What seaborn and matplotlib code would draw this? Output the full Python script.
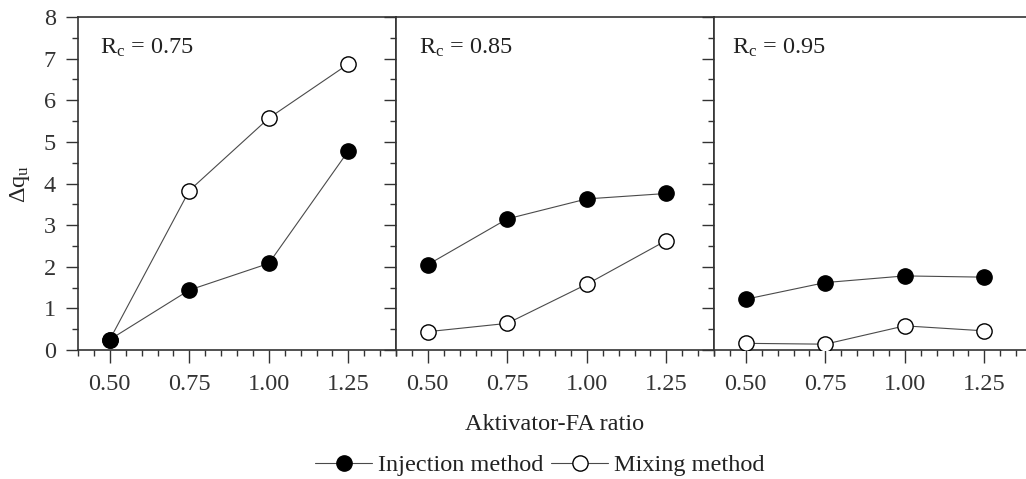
import numpy as np
import pandas as pd
import matplotlib
matplotlib.use("Agg")
import matplotlib.pyplot as plt
from matplotlib.ticker import MultipleLocator, FormatStrFormatter
from matplotlib.lines import Line2D
import seaborn as sns

# Activator-to-fly-ash ratios tested
ratio = [0.50, 0.75, 1.00, 1.25]

# Panels: curing ratio R_c
rc_labels = ["0.75", "0.85", "0.95"]

# Increase in unconfined strength, Δq_u, per panel
injection = [
    [0.25, 1.44, 2.08, 4.78],
    [2.05, 3.15, 3.63, 3.76],
    [1.22, 1.62, 1.78, 1.75],
]
mixing = [
    [0.25, 3.83, 5.57, 6.87],
    [0.44, 0.64, 1.58, 2.63],
    [0.16, 0.14, 0.58, 0.46],
]

series_names = ["Injection method", "Mixing method"]

sns.set_style("ticks")
plt.rcParams["font.family"] = ["Liberation Serif", "DejaVu Serif"]
plt.rcParams["mathtext.fontset"] = "custom"
plt.rcParams["mathtext.rm"] = "Liberation Serif"
plt.rcParams["mathtext.it"] = "Liberation Serif:italic"
plt.rcParams["axes.edgecolor"] = "#333333"
plt.rcParams["xtick.color"] = "#333333"
plt.rcParams["ytick.color"] = "#333333"
plt.rcParams["text.color"] = "#222222"

FS = 17.5
fig = plt.figure(figsize=(10.26, 4.79), dpi=100)
gs = fig.add_gridspec(1, 3, left=78 / 1026, right=1032 / 1026,
                      top=1 - 17 / 479, bottom=1 - 350 / 479, wspace=0)
axes = [fig.add_subplot(gs[0, i]) for i in range(3)]

text_x = [0.07, 0.072, 0.057]
line_kw = dict(color="#4a4a4a", linewidth=0.8, marker="o", markersize=11,
               markeredgecolor="black", markeredgewidth=1.0)

for i, ax in enumerate(axes):
    df = pd.DataFrame({
        "ratio": ratio * 2,
        "dq": mixing[i] + injection[i],
        "method": [series_names[1]] * 4 + [series_names[0]] * 4,
    })
    sns.lineplot(data=df[df["method"] == series_names[1]], x="ratio", y="dq",
                 ax=ax, markerfacecolor="white", zorder=3, legend=False,
                 **line_kw)
    sns.lineplot(data=df[df["method"] == series_names[0]], x="ratio", y="dq",
                 ax=ax, markerfacecolor="black", zorder=4, legend=False,
                 **line_kw)

    ax.set_xlim(0.4, 1.4)
    ax.set_ylim(0, 8)
    ax.xaxis.set_major_locator(MultipleLocator(0.25))
    ax.xaxis.set_minor_locator(MultipleLocator(0.05))
    ax.xaxis.set_major_formatter(FormatStrFormatter("%.2f"))
    ax.yaxis.set_major_locator(MultipleLocator(1))
    ax.yaxis.set_minor_locator(MultipleLocator(0.5))
    ax.tick_params(which="major", direction="out", length=9, width=1.0,
                   labelsize=FS)
    ax.tick_params(which="minor", direction="out", length=4.5, width=1.0)
    ax.tick_params(axis="x", which="major", pad=8)
    ax.tick_params(axis="y", which="major", pad=7)
    for sp in ax.spines.values():
        sp.set_linewidth(1.2)
    ax.set_xlabel("")
    ax.set_ylabel("")
    if i > 0:
        ax.tick_params(axis="y", labelleft=False)
    ax.text(text_x[i], 0.907, r"R$_\mathrm{c}$ = " + rc_labels[i],
            transform=ax.transAxes, fontsize=FS, va="center", ha="left")

axes[0].set_ylabel(r"Δq$_\mathrm{u}$", fontsize=FS, labelpad=8)
fig.text(555 / 1026, 1 - 425 / 479, "Aktivator-FA ratio", fontsize=FS,
         ha="center", va="center")

handles = [
    Line2D([], [], markerfacecolor="black", **line_kw),
    Line2D([], [], markerfacecolor="white", **line_kw),
]
fig.legend(handles, series_names, loc="center", ncol=2,
           bbox_to_anchor=(540 / 1026, 1 - 465 / 479), frameon=False,
           fontsize=FS, handlelength=2.35, handletextpad=0.25,
           columnspacing=0.3, borderaxespad=0, borderpad=0)

fig.savefig("out.png", dpi=100)
